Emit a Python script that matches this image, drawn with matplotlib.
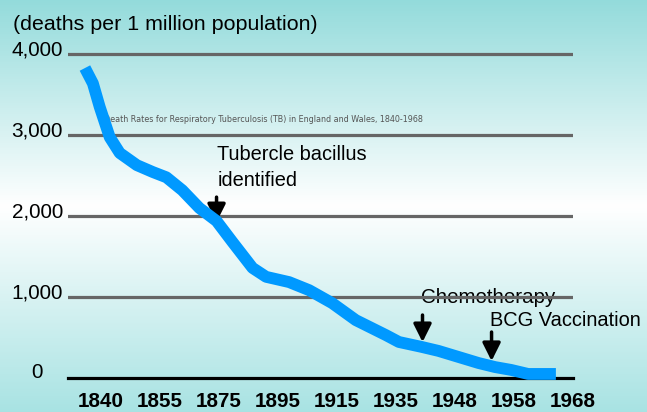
import matplotlib
matplotlib.use("Agg")
import matplotlib.pyplot as plt
import numpy as np
from matplotlib.transforms import offset_copy

# position along the (unevenly labelled) year axis, and deaths per million
pos = [-0.27, -0.135, -0.02, 0.15, 0.32, 0.61, 0.88, 1.11, 1.38, 1.67, 1.96,
       2.23, 2.57, 2.80, 3.19, 3.53, 3.92, 4.32, 4.83, 5.05, 5.43, 5.72, 6.06,
       6.40, 6.68, 6.95, 7.24, 7.71]
deaths = [3830, 3640, 3350, 2975, 2780, 2630, 2545, 2480, 2320, 2100, 1940,
          1680, 1360, 1250, 1185, 1085, 925, 715, 530, 445, 385, 335, 260,
          185, 135, 100, 50, 50]

x_labels = ["1840", "1855", "1875", "1895", "1915", "1935", "1948", "1958", "1968"]
y_ticks = [1000, 2000, 3000, 4000]
y_labels = ["1,000", "2,000", "3,000", "4,000"]

# annotations: text, text position, arrow x, arrow top, arrow tip
notes = ["Tubercle bacillus\nidentified", "Chemotherapy", "BCG Vaccination"]
note_x = [1.97, 5.42, 6.60]
note_y = [2600, 1000, 716]
note_w = [150, 135, 151]
arrow_x = [1.96, 5.45, 6.62]
arrow_top = [2235, 778, 568]
arrow_tip = [1926, 444, 210]

font = ["Liberation Sans", "DejaVu Sans"]

fig = plt.figure(figsize=(6.47, 4.12), dpi=100)
rend = fig.canvas.get_renderer()


def fit(txt, width_px):
    # scale the font so the text is about width_px wide
    w = txt.get_window_extent(rend).width
    txt.set_fontsize(txt.get_fontsize() * width_px / w)
    return txt.get_fontsize()


# background gradient
bg = fig.add_axes([0, 0, 1, 1], zorder=-10)
t = np.linspace(0, 1, 256)
stops = [0, 0.5, 1]
cols = np.array([[0.58, 0.86, 0.86], [1.0, 1.0, 1.0], [0.66, 0.89, 0.89]])
grad = np.stack([np.interp(t, stops, cols[:, i]) for i in range(3)], axis=1)
bg.imshow(grad[:, None, :], aspect="auto", extent=[0, 1, 0, 1])
bg.axis("off")

W, H = 647, 412
ax = fig.add_axes([68 / W, (H - 378) / H, (573 - 68) / W, (378 - 30) / H])
ax.patch.set_alpha(0)
ax.set_xlim((68 - 101) / 59.25, (573 - 101) / 59.25)
ax.set_ylim(0, 4300)

for s in ["top", "right", "left"]:
    ax.spines[s].set_visible(False)
ax.spines["bottom"].set_color("black")
ax.spines["bottom"].set_linewidth(2.3)
ax.spines["bottom"].set_zorder(2)

for v in y_ticks:
    ax.axhline(v, color="#666666", lw=2.3, zorder=1.5)

# x tick labels: size fitted to the reference width of one label
probe = fig.text(0, 0, x_labels[0], family=font, fontsize=16, fontweight="bold")
xsize = fit(probe, 46)
probe.remove()
ax.set_xticks(range(len(x_labels)))
ax.set_xticklabels(x_labels, family=font, fontsize=xsize, fontweight="bold")
ax.tick_params(axis="x", length=0, pad=10)
ax.set_yticks([])

ytrans = offset_copy(ax.get_yaxis_transform(), fig=fig, x=-5, y=4, units="dots")
probe = fig.text(0, 0, y_labels[-1], family=font, fontsize=16)
ysize = fit(probe, 52)
probe.remove()
for v, lab in zip(y_ticks, y_labels):
    ax.text(0, v, lab, transform=ytrans, ha="right", va="center",
            family=font, fontsize=ysize)
ax.text(0, 0, "0", transform=offset_copy(ax.get_yaxis_transform(), fig=fig,
        x=-25, y=5, units="dots"), ha="right", va="center",
        family=font, fontsize=ysize)

title = fig.text(13 / W, 1 - 24 / H, "(deaths per 1 million population)",
                 family=font, fontsize=16, ha="left", va="center")
fit(title, 305)

sub = ax.text(0.05, 3198, "Death Rates for Respiratory Tuberculosis (TB) in England and Wales, 1840-1968",
              fontsize=5.6, color="#555555", ha="left", va="center", zorder=1)
fit(sub, 321)

for s, nx, ny, nw in zip(notes, note_x, note_y, note_w):
    nt = ax.text(nx, ny, s, family=font, fontsize=16, ha="left", va="center",
                 linespacing=1.45, zorder=1, clip_on=False)
    fit(nt, nw)

for ax_x, top, tip in zip(arrow_x, arrow_top, arrow_tip):
    ax.annotate("", xy=(ax_x, tip), xytext=(ax_x, top),
                arrowprops=dict(arrowstyle="-|>,head_width=0.45,head_length=0.9",
                                color="black", lw=2.5, mutation_scale=12,
                                shrinkA=0, shrinkB=0),
                zorder=2.6)

ax.plot(pos, deaths, color="#0099ff", lw=8.5, solid_capstyle="butt",
        solid_joinstyle="round", zorder=3, clip_on=False)

fig.savefig("out.png", dpi=100)
